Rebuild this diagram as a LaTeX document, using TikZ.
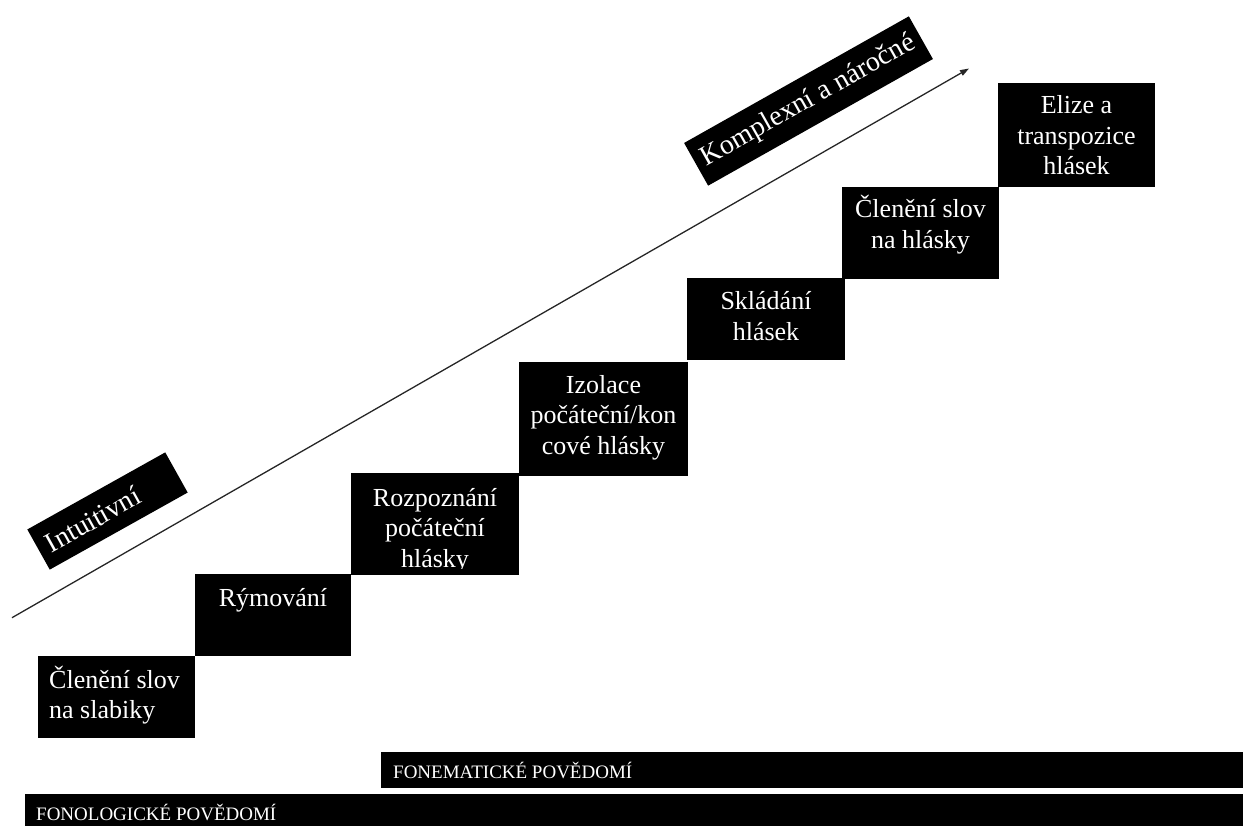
\documentclass[tikz,border=0pt]{standalone}
\usepackage{fontspec}
\setmainfont{Liberation Serif}
\newfontfamily\tnr{Liberation Serif}
\usetikzlibrary{arrows.meta}
\tikzset{
  stair/.style={fill=black, draw=none, inner sep=0pt, anchor=north west},
  stairtext/.style={text=white, inner sep=0pt, anchor=base, align=center,
    font=\tnr\fontsize{26}{30.5}\selectfont},
  barbox/.style={fill=black, draw=none, inner sep=0pt, anchor=north west},
  bartext/.style={text=white, inner sep=0pt, anchor=base west,
    font=\tnr\fontsize{19}{22}\selectfont},
  tag/.style={fill=black, text=white, inner sep=0pt,
    font=\tnr\fontsize{28}{31}\selectfont},
  trend/.style={draw=black!85, line width=1.3pt, -{Triangle[length=9pt,width=6pt]}}
}
\begin{document}
\begin{tikzpicture}[x=1pt,y=-1pt]
\useasboundingbox (0,0) rectangle (1243,826);
% stairs
\node[stair, minimum width=157, minimum height=82] (b1) at (38,656) {};
\node[stair, minimum width=156, minimum height=82] (b2) at (195,574) {};
\node[stair, minimum width=168, minimum height=102] (b3) at (351,473) {};
\node[stair, minimum width=169, minimum height=114] (b4) at (519,362) {};
\node[stair, minimum width=158, minimum height=82] (b5) at (687,278) {};
\node[stair, minimum width=157, minimum height=92] (b6) at (842,187) {};
\node[stair, minimum width=157, minimum height=104] (b7) at (998,83) {};
% texts (anchor = baseline of last line)
\node[stairtext, anchor=base west, align=left] (t1) at (49,718.5) {Členění slov\\na slabiky};
\node[stairtext] (t2) at (273,606) {Rýmování};
\begin{scope}
\clip (351,473) rectangle (519,568);
\node[stairtext] (t3) at (435,567) {Rozpoznání\\počáteční\\hlásky};
\end{scope}
\node[stairtext] (t4) at (603.5,454) {Izolace\\počáteční/kon\\cové hlásky};
\node[stairtext] (t5) at (766,340.5) {Skládání\\hlásek};
\node[stairtext] (t6) at (920.5,248.5) {Členění slov\\na hlásky};
\node[stairtext] (t7) at (1076.5,175) {Elize a\\transpozice\\hlásek};
% bars
\node[barbox, minimum width=862, minimum height=36] (fonem) at (381,752) {};
\node[bartext] (fonemt) at (393,778) {FONEMATICKÉ POVĚDOMÍ};
\node[barbox, minimum width=1218, minimum height=32] (fonol) at (25,794) {};
\node[bartext] (fonolt) at (36,820) {FONOLOGICKÉ POVĚDOMÍ};
% arrow
\coordinate (as) at (12,617.7);
\coordinate (ae) at (969,68.5);
\draw[trend] (as) -- (ae);
% tags
\node[tag, rotate=29.2, minimum width=158pt, minimum height=46pt] (intu) at (107.5,511)
  {\makebox[138pt][l]{Intuitivní}};
\node[tag, rotate=29.4, minimum width=258pt, minimum height=49pt] (kompl) at (808.5,101)
  {Komplexní a náročné};
\end{tikzpicture}
\end{document}
